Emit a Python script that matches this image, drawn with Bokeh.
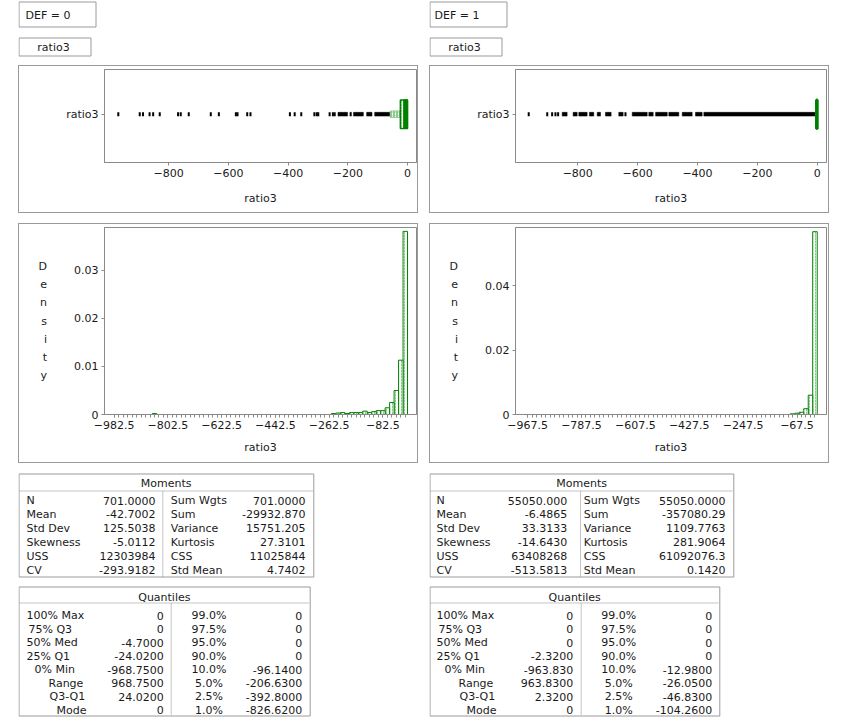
import numpy as np
from bokeh.plotting import figure
from bokeh.layouts import row, column
from bokeh.models import Range1d, FixedTicker, Spacer
from bokeh.embed import file_html
from bokeh.resources import INLINE
from bokeh.core.properties import value

# ---------------- data ----------------
group_titles = ["DEF = 0", "DEF = 1"]
var_name = "ratio3"

# outlier box plot: isolated observations and dense runs of observations
box_points_0 = [-968.75, -897, -886, -864, -852, -830, -768.6, -759.6, -732.8, -659, -632,
                -575, -569.5, -537, -526, -394, -378, -356, -312, -304, -299, -261, -250, -244]
box_runs_lo_0 = [-233, -193, -181, -137, -110]
box_runs_hi_0 = [-201, -188, -148, -119, -58]
box_points_1 = [-963.83, -902, -885.6, -874.5, -865.6, -640.6]
box_runs_lo_1 = [-852, -815.5, -796.5, -761, -735, -707.4, -663, -618, -562.6, -540, -495.8, -451, -406.7, -378.8]
box_runs_hi_1 = [-835.5, -802, -768.7, -746.5, -724, -688.5, -648.4, -568, -548, -501, -462.4, -417.8, -384.4, 0.0]

box_q1 = [-24.02, -2.32]
box_med = [-4.70, 0.0]
box_q3 = [0.0, 0.0]
box_whisker_lo = [-58.0, -5.8]
box_short_half_lo = [-13.0, -2.32]

# histograms (bin width 15, bins given by their left edge)
hist_bin_width = 15
hist_left_0 = [-15, -30, -45, -60, -75, -90, -105, -120, -135, -150, -165, -180, -195, -210, -225,
               -240, -255, -855]
hist_dens_0 = [0.0381, 0.0113, 0.0050, 0.0025, 0.0014, 0.0008, 0.0008, 0.0006, 0.0004, 0.0007, 0.0004,
               0.0004, 0.0004, 0.0002, 0.0004, 0.0003, 0.0002, 0.0002]
hist_left_1 = [-15, -30, -45, -60, -75, -90]
hist_dens_1 = [0.0568, 0.0060, 0.0018, 0.0007, 0.0004, 0.0002]

hist_xticks_0 = [-982.5, -802.5, -622.5, -442.5, -262.5, -82.5]
hist_xticks_1 = [-967.5, -787.5, -607.5, -427.5, -247.5, -67.5]
hist_yticks_0 = [0, 0.01, 0.02, 0.03]
hist_yticks_1 = [0, 0.02, 0.04]
box_xticks = [-800, -600, -400, -200, 0]

moment_labels_a = ["N", "Mean", "Std Dev", "Skewness", "USS", "CV"]
moment_labels_b = ["Sum Wgts", "Sum", "Variance", "Kurtosis", "CSS", "Std Mean"]
moments_a_0 = ["701.0000", "-42.7002", "125.5038", "-5.0112", "12303984", "-293.9182"]
moments_b_0 = ["701.0000", "-29932.870", "15751.205", "27.3101", "11025844", "4.7402"]
moments_a_1 = ["55050.000", "-6.4865", "33.3133", "-14.6430", "63408268", "-513.5813"]
moments_b_1 = ["55050.0000", "-357080.29", "1109.7763", "281.9064", "61092076.3", "0.1420"]

quant_labels_a = ["100% Max", "75% Q3", "50% Med", "25% Q1", "0% Min", "Range", "Q3-Q1", "Mode"]
quant_labels_b = ["99.0%", "97.5%", "95.0%", "90.0%", "10.0%", "5.0%", "2.5%", "1.0%"]
quant_a_0 = ["0", "0", "-4.7000", "-24.0200", "-968.7500", "968.7500", "24.0200", "0"]
quant_b_0 = ["0", "0", "0", "0", "-96.1400", "-206.6300", "-392.8000", "-826.6200"]
quant_a_1 = ["0", "0", "0", "-2.3200", "-963.830", "963.8300", "2.3200", "0"]
quant_b_1 = ["0", "0", "0", "0", "-12.9800", "-26.0500", "-46.8300", "-104.2600"]

# ---------------- styling / layout ----------------
FONT = "DejaVu Sans"
FS = "11px"
TXT = "#1a1a1a"
FRAME = "#9a9a9a"
INNER = "#8a8a8a"
GREEN = "#008000"
LIGHT = "#8cc98c"

PW = 400                   # width of each panel
HEAD_H, BOX_H, GAP_H, HIST_H, TAB_H = 65, 148, 10, 240, 257
MBL = 86
MBR = [2, 3]
XR = [(-1015, 30), (-1008, 31)]
YC = 0.5
PANEL_CSS = {"box-shadow": "inset 0 0 0 1px " + FRAME, "background-color": "white"}

data = [
    dict(pts=box_points_0, rlo=box_runs_lo_0, rhi=box_runs_hi_0, hl=hist_left_0, hd=hist_dens_0,
         hx=hist_xticks_0, hy=hist_yticks_0, ma=moments_a_0, mb=moments_b_0, qa=quant_a_0, qb=quant_b_0),
    dict(pts=box_points_1, rlo=box_runs_lo_1, rhi=box_runs_hi_1, hl=hist_left_1, hd=hist_dens_1,
         hx=hist_xticks_1, hy=hist_yticks_1, ma=moments_a_1, mb=moments_b_1, qa=quant_a_1, qb=quant_b_1),
]
HIST_YMAX = [0.0389, 0.0581]

MOM = dict(w=[295.3, 304.3], lab=[8, 7], va=[137, 137.7], sep=[144.3, 151], lb=[152.3, 154.3], vb=[287, 296])
QUA = dict(w=[291.7, 290.3], lab=[8, 7], va=[145.3, 143.7], sep=[152.7, 151.7], cb=[190.5, 189.3], vb=[283.7, 282.7])
Q_INDENT = [0, 2, 0, 0, 8, 22, 23, 30]


def no_align(p):
    try:
        p.frame_align = False
    except Exception:
        pass


def base_canvas(w, h):
    p = figure(width=w, height=h, x_range=Range1d(0, w), y_range=Range1d(h, 0),
               output_backend="svg", toolbar_location=None, min_border=0,
               x_axis_location=None, y_axis_location=None)
    p.grid.visible = False
    p.outline_line_color = None
    p.background_fill_color = "white"
    p.border_fill_color = "white"
    no_align(p)
    return p


def txt(p, x, y, t, align="left"):
    p.text(x=x, y=y, text=t, text_align=align, text_baseline="middle",
           text_font=value(FONT), text_font_size=FS, text_color=TXT)


def header(k):
    p = base_canvas(PW, HEAD_H)
    p.quad(left=[0.5, 0.5], right=[77.5, 72.5], top=[1.5, 37.5], bottom=[26.5, 55.5],
           fill_color="white", line_color=FRAME, line_width=1)
    txt(p, [[7, 5][k]], [14.5], [group_titles[k]])
    txt(p, [35], [46.5], [var_name], "center")
    return p


def style_axes(p):
    for ax in p.axis:
        ax.major_label_text_font = FONT
        ax.major_label_text_font_size = FS
        ax.major_label_text_color = TXT
        ax.axis_label_text_font = FONT
        ax.axis_label_text_font_size = FS
        ax.axis_label_text_font_style = "normal"
        ax.axis_label_text_color = TXT
        ax.axis_line_color = INNER
        ax.major_tick_line_color = INNER
        ax.minor_tick_line_color = INNER
        ax.major_tick_out = 3
        ax.major_tick_in = 0
        ax.minor_tick_out = 3
        ax.minor_tick_in = 0
        ax.major_label_standoff = 3
    p.grid.visible = False
    p.outline_line_color = INNER
    p.border_fill_alpha = 0
    p.background_fill_alpha = 0
    no_align(p)


def box_plot(k):
    d = data[k]
    p = figure(width=PW, height=BOX_H, x_range=Range1d(*XR[k]), y_range=Range1d(-0.04, 1.0),
               output_backend="svg", toolbar_location=None, styles=PANEL_CSS,
               min_border_left=MBL, min_border_right=MBR[k], min_border_top=4, min_border_bottom=51)
    p.xaxis.ticker = FixedTicker(ticks=box_xticks, minor_ticks=[])
    p.xaxis.axis_label = var_name
    p.yaxis.ticker = FixedTicker(ticks=[YC], minor_ticks=[])
    p.yaxis.major_label_overrides = {YC: var_name}
    style_axes(p)
    p.xaxis.axis_label_standoff = 12
    # dense runs of points
    p.quad(left=d["rlo"], right=d["rhi"], bottom=YC - 0.021, top=YC + 0.021,
           fill_color="black", line_color="black", line_width=0.5)
    # isolated points
    p.rect(x=d["pts"], y=YC, width=2, height=4, width_units="screen", height_units="screen",
           fill_color="black", line_color=None)
    # whisker
    p.quad(left=[box_whisker_lo[k]], right=[box_q1[k]], bottom=YC - 0.036, top=YC + 0.036,
           fill_color=LIGHT, line_color=LIGHT, hatch_pattern=":", hatch_color="white", hatch_scale=3)
    # box
    if k == 0:
        p.quad(left=[box_q1[k]], right=[box_q3[k]], bottom=YC - 0.16, top=YC + 0.16,
               fill_color="white", line_color=GREEN, line_width=1.5,
               hatch_pattern=":", hatch_color=LIGHT, hatch_scale=3)
        p.quad(left=[box_short_half_lo[k]], right=[box_q3[k]], bottom=YC - 0.16, top=YC + 0.16,
               fill_color=GREEN, line_color=GREEN)
        p.segment(x0=[box_med[k]], x1=[box_med[k]], y0=[YC - 0.16], y1=[YC + 0.16], line_color=GREEN)
    else:
        p.quad(left=[box_q1[k]], right=[box_q3[k]], bottom=YC - 0.16, top=YC + 0.16,
               fill_color=GREEN, line_color=GREEN, line_width=3)
    return p


def hist_plot(k):
    d = data[k]
    p = figure(width=PW, height=HIST_H, x_range=Range1d(*XR[k]), y_range=Range1d(0, HIST_YMAX[k]),
               output_backend="svg", toolbar_location=None, styles=PANEL_CSS,
               min_border_left=MBL, min_border_right=MBR[k], min_border_top=4, min_border_bottom=49)
    minor = list(np.arange(d["hx"][0], 0, hist_bin_width))
    p.xaxis.ticker = FixedTicker(ticks=d["hx"], minor_ticks=minor)
    p.xaxis.axis_label = var_name
    p.yaxis.ticker = FixedTicker(ticks=d["hy"], minor_ticks=[])
    p.yaxis.major_label_overrides = {t: ("0" if t == 0 else str(t)) for t in d["hy"]}
    style_axes(p)
    p.xaxis.axis_label_standoff = 9
    p.yaxis.axis_label = "\n".join("Density")
    try:
        p.yaxis.axis_label_orientation = "horizontal"
    except Exception:
        pass
    p.yaxis.axis_label_text_line_height = 1.4
    p.yaxis.axis_label_standoff = 24
    left = np.array(d["hl"], dtype=float)
    p.quad(left=left, right=left + hist_bin_width, bottom=0, top=d["hd"],
           fill_color="white", line_color=GREEN, line_width=1,
           hatch_pattern=":", hatch_color=LIGHT, hatch_scale=3)
    return p


def tables(k):
    d = data[k]
    p = base_canvas(PW, TAB_H)
    # Moments
    w = MOM["w"][k]
    p.quad(left=[0.5], right=[w], top=[10.5], bottom=[113.5], fill_color="white", line_color=FRAME)
    txt(p, [w / 2], [19.5], ["Moments"], "center")
    p.segment(x0=[1], x1=[w - 1], y0=[27.5], y1=[27.5], line_color=INNER, line_dash="1 1")
    p.segment(x0=[MOM["sep"][k]], x1=[MOM["sep"][k]], y0=[28], y1=[113], line_color=INNER, line_dash="1 1")
    ys = [37 + 13.9 * i for i in range(6)]
    txt(p, [MOM["lab"][k]] * 6, ys, moment_labels_a)
    txt(p, [MOM["va"][k]] * 6, ys, d["ma"], "right")
    txt(p, [MOM["lb"][k]] * 6, ys, moment_labels_b)
    txt(p, [MOM["vb"][k]] * 6, ys, d["mb"], "right")
    # Quantiles
    w = QUA["w"][k]
    p.quad(left=[0.5], right=[w], top=[123.5], bottom=[252.5], fill_color="white", line_color=FRAME)
    txt(p, [w / 2], [134], ["Quantiles"], "center")
    p.segment(x0=[1], x1=[w - 1], y0=[139.5], y1=[139.5], line_color=INNER, line_dash="1 1")
    p.segment(x0=[QUA["sep"][k]], x1=[QUA["sep"][k]], y0=[140], y1=[252], line_color=INNER, line_dash="1 1")
    ys = [152 + 13.57 * i for i in range(8)]
    txt(p, [QUA["lab"][k] + q for q in Q_INDENT], ys, quant_labels_a)
    txt(p, [QUA["va"][k]] * 8, ys, d["qa"], "right")
    txt(p, [QUA["cb"][k]] * 8, ys, quant_labels_b, "center")
    txt(p, [QUA["vb"][k]] * 8, ys, d["qb"], "right")
    return p


cols = []
for k in range(2):
    cols.append(column(header(k), box_plot(k), Spacer(width=PW, height=GAP_H), hist_plot(k), tables(k), spacing=0))
layout = row(Spacer(width=18, height=10), cols[0], Spacer(width=11, height=10), cols[1], spacing=0)

open("out.html", "w").write(file_html(layout, INLINE))
